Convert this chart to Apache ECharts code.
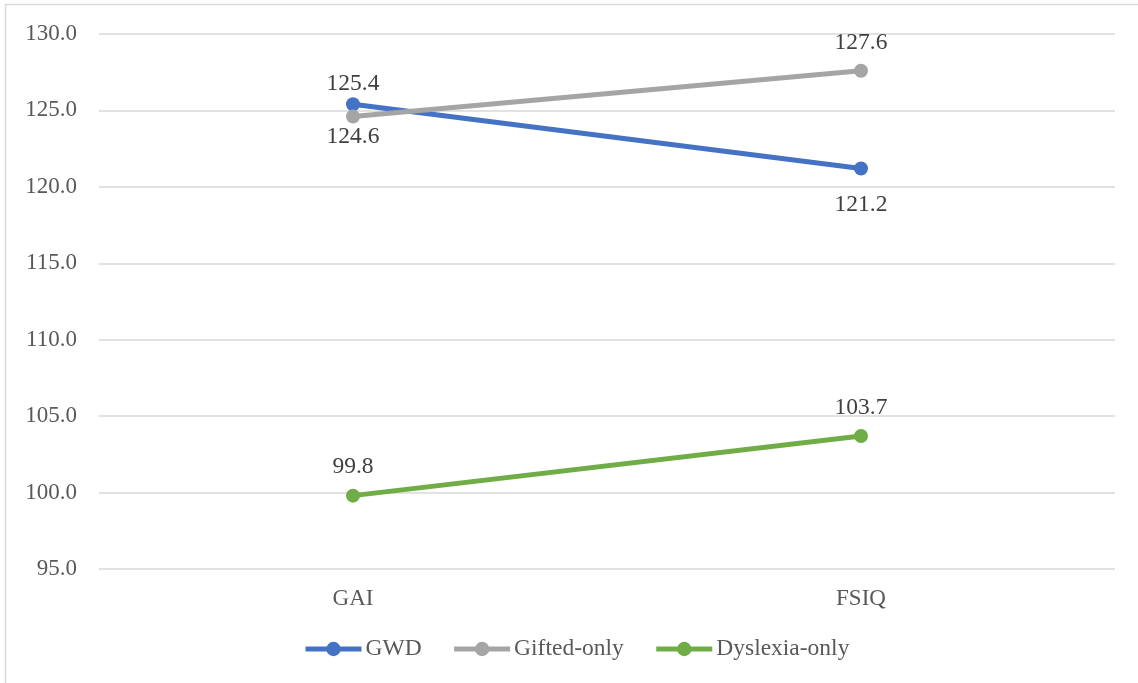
<!DOCTYPE html>
<html>
<head>
<meta charset="utf-8">
<script src="https://cdn.jsdelivr.net/npm/echarts@6/dist/echarts.min.js"></script>
<style>
  html, body { margin: 0; padding: 0; background: #fff; }
  #chart { width: 1138px; height: 683px; }
</style>
</head>
<body>
<div id="chart"></div>
<script>
// Index scores by measure for each group
const categories = ['GAI', 'FSIQ'];
const gwd = [125.4, 121.2];
const giftedOnly = [124.6, 127.6];
const dyslexiaOnly = [99.8, 103.7];
const seriesNames = ['GWD', 'Gifted-only', 'Dyslexia-only'];
const colors = ['#4472C4', '#A5A5A5', '#70AD47'];

const FONT = '"Liberation Serif", "Times New Roman", serif';
const TEXT = '#595959';

// positions: label side per point; gaps: label distance from the marker per point
function lineSeries(name, values, color, positions, gaps) {
  return {
    name: name,
    type: 'line',
    data: values.map((v, i) => ({
      value: v,
      label: { position: positions[i], distance: gaps[i] }
    })),
    symbol: 'circle',
    symbolSize: 14,
    lineStyle: { width: 5, color: color },
    itemStyle: { color: color },
    label: {
      show: true,
      formatter: p => p.value.toFixed(1),
      fontFamily: FONT,
      fontSize: 23.5,
      color: '#404040'
    },
    animation: false
  };
}

const chart = echarts.init(document.getElementById('chart'));
chart.setOption({
  backgroundColor: '#fff',
  textStyle: { fontFamily: FONT },
  graphic: [{
    type: 'rect',
    shape: { x: 5.5, y: 4.5, width: 1200, height: 800 },
    style: { fill: 'none', stroke: '#D9D9D9', lineWidth: 1.5 },
    silent: true
  }],
  grid: { left: 99, right: 23, top: 34, bottom: 114 },
  xAxis: {
    type: 'category',
    data: categories,
    boundaryGap: true,
    axisLine: { show: false },
    axisTick: { show: false },
    axisLabel: { fontFamily: FONT, fontSize: 23, color: TEXT, margin: 18 }
  },
  yAxis: {
    type: 'value',
    min: 95,
    max: 130,
    interval: 5,
    axisLine: { show: false },
    axisTick: { show: false },
    splitLine: { lineStyle: { color: '#D9D9D9', width: 1.5 } },
    axisLabel: {
      fontFamily: FONT, fontSize: 23, color: TEXT, margin: 22,
      formatter: v => v.toFixed(1)
    }
  },
  legend: {
    top: 632,
    left: 298,
    itemWidth: 56,
    itemHeight: 18,
    itemGap: 30,
    lineStyle: { width: 5 },
    textStyle: { fontFamily: FONT, fontSize: 23.5, color: TEXT, padding: [0, 0, 0, -1] },
    data: seriesNames
  },
  series: [
    lineSeries(seriesNames[0], gwd, colors[0], ['top', 'bottom'], [1, 17]),
    lineSeries(seriesNames[1], giftedOnly, colors[1], ['bottom', 'top'], [1, 9]),
    lineSeries(seriesNames[2], dyslexiaOnly, colors[2], ['top', 'top'], [10, 9])
  ]
});
</script>
</body>
</html>
